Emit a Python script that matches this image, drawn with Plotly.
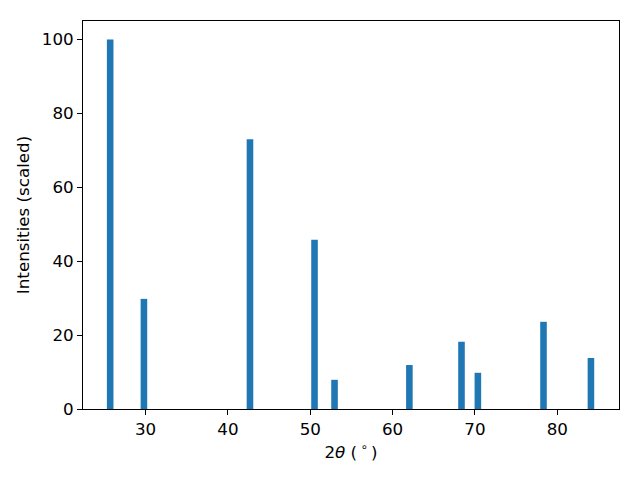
import plotly.graph_objects as go

# peak positions (2theta, degrees) and scaled intensities
two_theta = [25.70, 29.80, 42.68, 50.52, 52.95, 62.04, 68.37, 70.36, 78.33, 84.09]
intensity = [100.0, 29.8, 73.0, 45.8, 7.9, 11.9, 18.2, 9.8, 23.6, 13.8]

x_ticks = [30, 40, 50, 60, 70, 80]
y_ticks = [0, 20, 40, 60, 80, 100]

fig = go.Figure()

fig.add_trace(
    go.Bar(
        x=two_theta,
        y=intensity,
        width=0.8,
        marker=dict(color="#1f77b4", line=dict(width=0)),
    )
)

axis_style = dict(
    showline=True,
    linecolor="black",
    linewidth=1,
    mirror=True,
    ticks="outside",
    ticklen=5,
    tickwidth=1,
    tickcolor="black",
    showgrid=False,
    zeroline=False,
    tickfont=dict(size=16.7, color="black"),
)

# the page body adds an 8px offset, so margins are shifted to compensate
fig.update_layout(
    width=640,
    height=480,
    showlegend=False,
    plot_bgcolor="white",
    paper_bgcolor="white",
    font=dict(family="DejaVu Sans", size=16.7, color="black"),
    margin=dict(l=75, r=29, t=13, b=79),
    xaxis=dict(
        range=[22.4, 87.5],
        tickvals=x_ticks,
        title=dict(text="2<i>θ</i> (\u2009<sup>∘</sup>\u2009)", font=dict(size=16.7), standoff=8),
        **axis_style,
    ),
    yaxis=dict(
        range=[0, 105],
        tickvals=y_ticks,
        title=dict(text="Intensities (scaled)", font=dict(size=16.7), standoff=7),
        **axis_style,
    ),
)

fig.write_html("out.html")
